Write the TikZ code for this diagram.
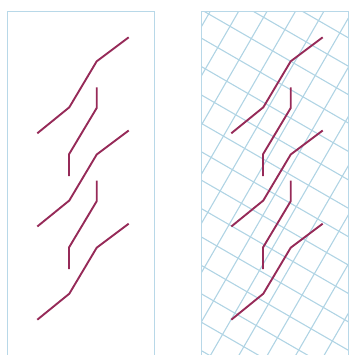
\documentclass[tikz,border=0pt]{standalone}
\usepackage{tikz}
\definecolor{panelblue}{RGB}{184,216,232}
\definecolor{gridblue}{RGB}{176,212,228}
\definecolor{strokered}{RGB}{150,42,88}
\tikzset{
  frame/.style={draw=panelblue, line width=1pt},
  gridline/.style={draw=gridblue, line width=1.1pt},
  stroke/.style={draw=strokered, line width=1.9pt},
}
\begin{document}
\begin{tikzpicture}[x=1pt,y=-1pt]
\useasboundingbox (0,0) rectangle (348,355);
% rotated grid, right panel only
\begin{scope}
  \clip (201.3,11.7) rectangle (348,360);
  \begin{scope}[shift={(217.7,47.6)}, rotate=-30]
    \foreach \k in {-14,...,14}{
      \draw[gridline] (\k*24.6,-450) -- (\k*24.6,450);
      \draw[gridline] (-450,\k*24.6) -- (450,\k*24.6);
    }
  \end{scope}
\end{scope}
% panel frames (open at the bottom)
\foreach \px in {0,194}{
  \draw[frame, shift={(\px,0)}] (7.3,360) -- (7.3,11.7) -- (154.3,11.7) -- (154.3,360);
}
% strokes, same in both panels
\foreach \px in {0,194}{
  \foreach \dy in {0,93.2,186.4}{
    \draw[stroke, shift={(\px,\dy)}] (37.3,133.3) -- (69.3,107.3) -- (96.7,61.3) -- (128.7,37.3);
  }
  \foreach \dy in {0,93.2}{
    \draw[stroke, shift={(\px,\dy)}] (96.7,87.3) -- (96.7,108) -- (69,154.3) -- (69,176);
  }
}
\end{tikzpicture}
\end{document}
